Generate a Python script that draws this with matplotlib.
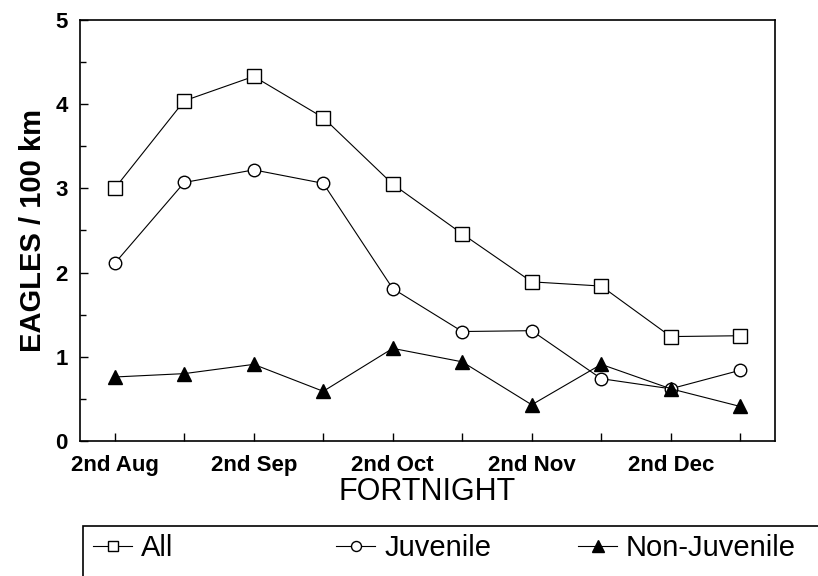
import matplotlib.pyplot as plt
from matplotlib.patches import Rectangle
import numpy as np

plt.rcParams['font.family'] = ['Liberation Sans', 'DejaVu Sans']

fortnights = ["2nd Aug", "1st Sep", "2nd Sep", "1st Oct", "2nd Oct",
              "1st Nov", "2nd Nov", "1st Dec", "2nd Dec", "1st Jan"]
all_eagles = [3.00, 4.04, 4.33, 3.84, 3.05, 2.46, 1.89, 1.84, 1.24, 1.25]
juvenile = [2.11, 3.07, 3.22, 3.06, 1.81, 1.30, 1.31, 0.74, 0.62, 0.84]
non_juvenile = [0.76, 0.80, 0.91, 0.59, 1.10, 0.94, 0.43, 0.91, 0.62, 0.41]


def main():
    fig = plt.figure(figsize=(8.18, 5.76), dpi=100)
    ax = fig.add_axes([0.0978, 0.2344, 0.8496, 0.7309])
    x = np.arange(len(fortnights))

    l1, = ax.plot(x, all_eagles, color='black', lw=0.8, marker='s', ms=9.5,
                  mfc='white', mec='black', mew=1.0, label='All')
    l2, = ax.plot(x, juvenile, color='black', lw=0.8, marker='o', ms=9,
                  mfc='white', mec='black', mew=1.0, label='Juvenile')
    l3, = ax.plot(x, non_juvenile, color='black', lw=0.8, marker='^', ms=10,
                  mfc='black', mec='black', label='Non-Juvenile')

    ax.set_xlim(-0.5, 9.5)
    ax.set_ylim(0, 5)
    ax.set_xticks(x)
    ax.set_xticklabels([f if i % 2 == 0 else "" for i, f in enumerate(fortnights)],
                       fontsize=16, fontweight='bold')
    ax.set_yticks(range(6))
    ax.set_yticklabels([str(i) for i in range(6)], fontsize=16, fontweight='bold')
    ax.set_yticks(np.arange(0.5, 5, 1), minor=True)
    ax.tick_params(direction='in', length=6, width=1)
    ax.tick_params(which='minor', direction='in', length=4, width=1)
    ax.tick_params(axis='x', pad=10)
    ax.tick_params(axis='y', pad=9)
    for s in ax.spines.values():
        s.set_linewidth(1.2)

    ax.set_ylabel("EAGLES / 100 km", fontsize=21, fontweight='bold', labelpad=6)
    ax.set_xlabel("FORTNIGHT", fontsize=22, labelpad=1)

    # legend box runs off the bottom/right of the figure, like the scan
    frame = Rectangle((83 / 818, -0.05), 0.95, 0.137, transform=fig.transFigure,
                      fill=False, edgecolor='black', lw=1.2, clip_on=False)
    fig.patches.append(frame)
    for h, x0 in zip([l1, l2, l3], [93, 336, 578]):
        fig.legend(handles=[h], loc='center left', bbox_to_anchor=(x0 / 818, 0.049),
                   frameon=False, fontsize=21, borderaxespad=0, borderpad=0,
                   handlelength=1.35, handletextpad=0.3, markerscale=0.8)

    fig.savefig("out.png", dpi=100)


if __name__ == "__main__":
    main()
